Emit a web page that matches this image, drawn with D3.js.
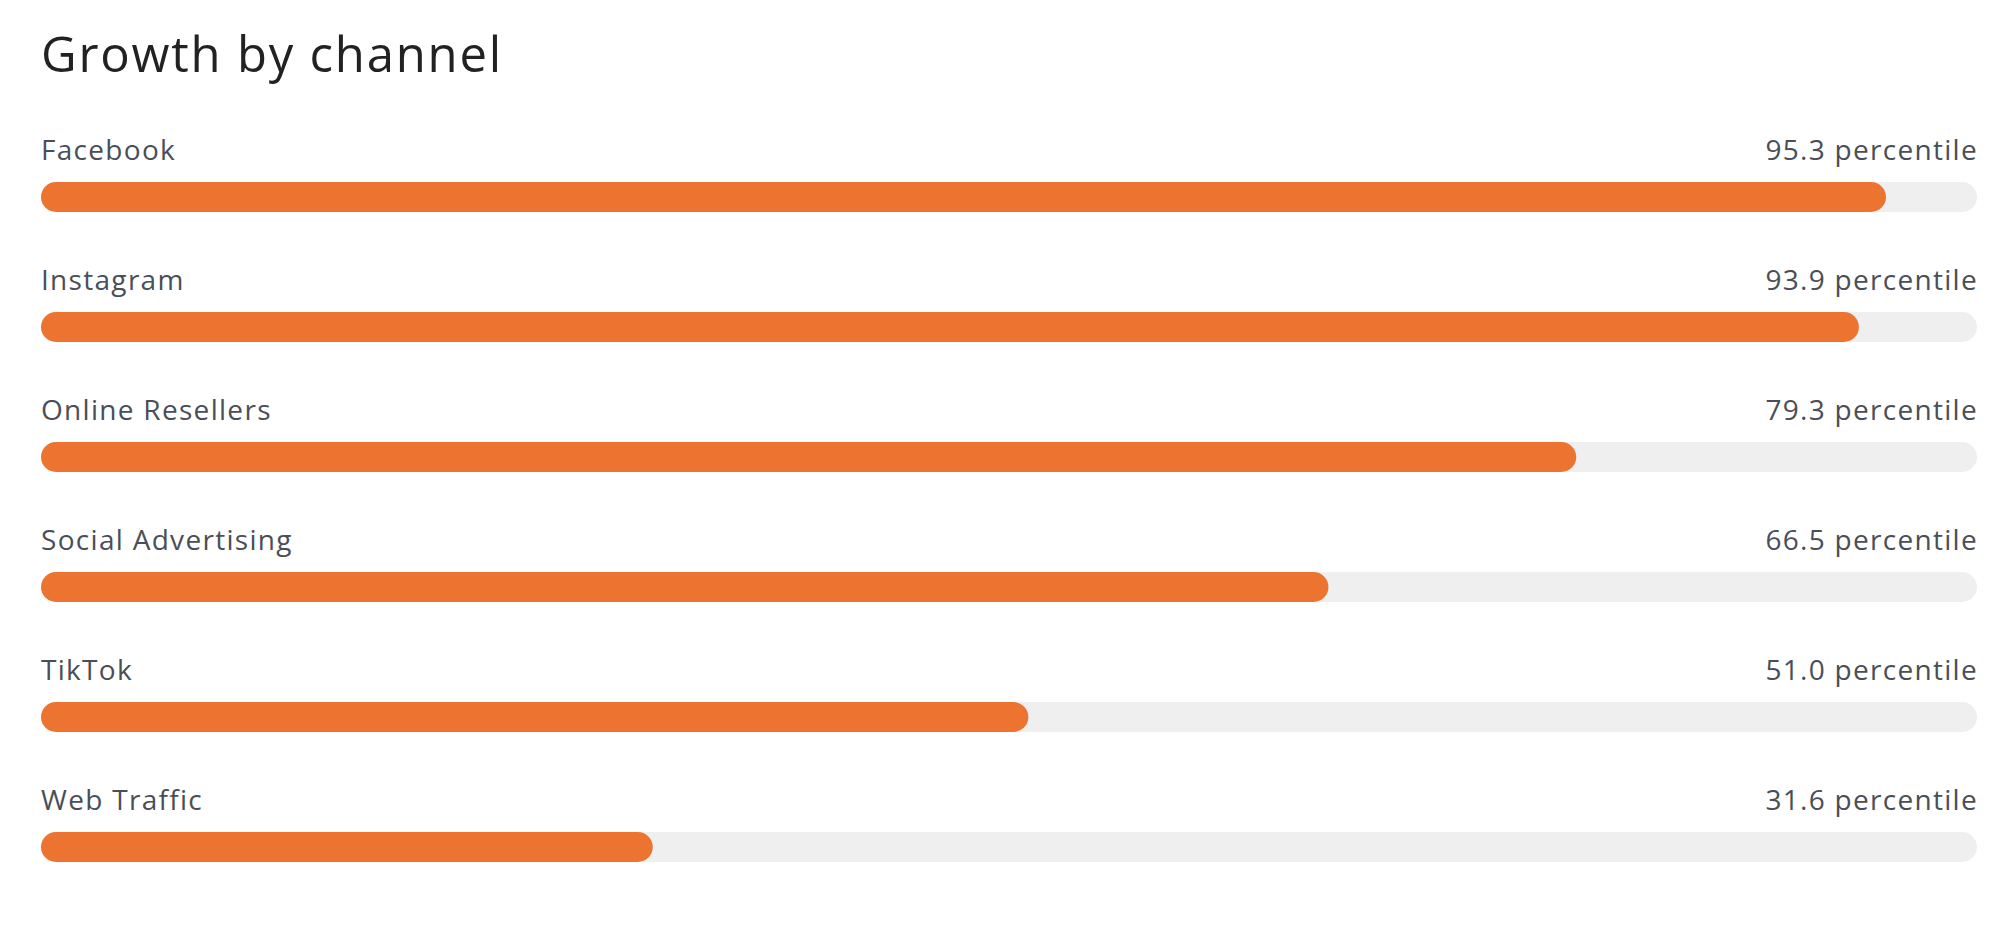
<!DOCTYPE html>
<meta charset="utf-8">
<script src="https://d3js.org/d3.v7.min.js"></script>
<style>
  body { margin: 0; background: #fff; }
  text { font-family: "Open Sans", "Noto Sans", sans-serif; }
</style>
<div id="my_dataviz"></div>
<script>

// channels and their growth percentile
var channels = ["Facebook", "Instagram", "Online Resellers", "Social Advertising", "TikTok", "Web Traffic"]
var percentiles = [95.3, 93.9, 79.3, 66.5, 51.0, 31.6]
var title = "Growth by channel"

var width = 2016,
    height = 936,
    left = 41,
    right = 1977,
    barH = 30

var svg = d3.select("#my_dataviz")
  .append("svg")
    .attr("width", width)
    .attr("height", height)

// title
svg.append("text")
  .attr("x", left)
  .attr("y", 72)
  .attr("fill", "#222222")
  .style("font-size", "49px")
  .style("letter-spacing", "1.8px")
  .text(title)

// x scale: 0-100 percentile over the track width
var x = d3.scaleLinear()
  .domain([0, 100])
  .range([left, right])

// one row per channel
var y = d3.scaleBand()
  .domain(channels)
  .range([130, 910])

var data = channels.map(function(c, i){ return {name: c, value: percentiles[i]} })

var rows = svg.selectAll(".row")
  .data(data)
  .enter()
  .append("g")
    .attr("class", "row")
    .attr("transform", function(d){ return "translate(0," + y(d.name) + ")" })

// label on the left
rows.append("text")
  .attr("x", left)
  .attr("y", 30)
  .attr("fill", "#4a4f57")
  .style("font-size", "28px")
  .style("letter-spacing", "1.3px")
  .text(function(d){ return d.name })

// value on the right
rows.append("text")
  .attr("x", right + 1)
  .attr("y", 30)
  .attr("text-anchor", "end")
  .attr("fill", "#4a4f57")
  .style("font-size", "28px")
  .style("letter-spacing", "1.3px")
  .text(function(d){ return d.value.toFixed(1) + " percentile" })

// background track
rows.append("rect")
  .attr("x", x(0))
  .attr("y", 52)
  .attr("width", x(100) - x(0))
  .attr("height", barH)
  .attr("rx", barH / 2)
  .attr("fill", "#efefef")

// value bar
rows.append("rect")
  .attr("x", x(0))
  .attr("y", 52)
  .attr("width", function(d){ return x(d.value) - x(0) })
  .attr("height", barH)
  .attr("rx", barH / 2)
  .attr("fill", "#ed7430")

</script>
